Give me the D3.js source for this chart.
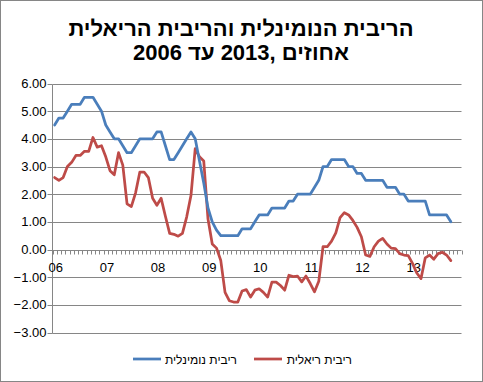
<!DOCTYPE html>
<html><head><meta charset="utf-8">
<script src="https://cdn.jsdelivr.net/npm/d3@7"></script>
<style>
html,body{margin:0;padding:0;background:#fff;}
svg{display:block;font-family:"Liberation Sans",Arial,sans-serif;}
</style></head>
<body>
<svg id="c" width="483" height="382"></svg>
<script>
// ---- data ----
const titleLine1 = "הריבית הנומינלית והריבית הריאלית";
const titleLine2 = "2006 עד\u200E 2013,\u200E אחוזים";
const seriesNames = ["ריבית נומינלית", "ריבית ריאלית"];
const yearLabels = ["06","07","08","09","10","11","12","13"];
const yTicks = [-3,-2,-1,0,1,2,3,4,5,6];
const monthsCount = 96; // Jan 2006 .. Dec 2013 category slots
const nominal = [
 4.5,4.75,4.75,5.0,5.25,5.25,5.25,5.5,5.5,5.5,5.25,5.0,
 4.5,4.25,4.0,4.0,3.75,3.5,3.5,3.75,4.0,4.0,4.0,4.0,
 4.25,4.25,3.75,3.25,3.25,3.5,3.75,4.0,4.25,4.0,3.2,2.4,
 1.5,1.0,0.7,0.5,0.5,0.5,0.5,0.5,0.75,0.75,0.75,1.0,
 1.25,1.25,1.25,1.5,1.5,1.5,1.5,1.75,1.75,2.0,2.0,2.0,
 2.0,2.25,2.5,3.0,3.0,3.25,3.25,3.25,3.25,3.0,3.0,2.75,
 2.75,2.5,2.5,2.5,2.5,2.5,2.25,2.25,2.25,2.0,2.0,1.75,
 1.75,1.75,1.75,1.75,1.25,1.25,1.25,1.25,1.25,1.0
];
const real = [
 2.6,2.5,2.6,3.0,3.15,3.4,3.4,3.55,3.55,4.05,3.7,3.75,
 3.35,2.85,2.7,3.5,3.05,1.65,1.55,2.05,2.8,2.8,2.6,1.85,
 1.6,1.85,1.2,0.58,0.55,0.48,0.58,1.18,1.95,3.65,3.35,3.2,
 1.1,0.2,0.05,-0.4,-1.55,-1.85,-1.9,-1.9,-1.5,-1.45,-1.72,-1.47,
 -1.42,-1.55,-1.72,-1.18,-1.18,-1.3,-1.47,-0.93,-0.98,-0.96,-1.17,-0.96,
 -1.23,-1.53,-1.15,0.1,0.1,0.3,0.6,1.15,1.33,1.25,1.05,0.8,
 0.46,-0.2,-0.25,0.1,0.3,0.4,0.2,0.05,0.03,-0.15,-0.2,-0.22,
 -0.5,-0.85,-1.05,-0.3,-0.2,-0.35,-0.15,-0.1,-0.2,-0.4
];
const colors = ["#4A7EBB", "#BE4B48"];

// ---- drawing ----
const svg = d3.select("#c");
svg.append("rect").attr("x",0.5).attr("y",0.5).attr("width",482).attr("height",381)
  .attr("fill","#fff").attr("stroke","#868686");

const x = d3.scaleBand().domain(d3.range(monthsCount)).range([52.5, 461.5]).padding(0);
const xc = i => x(i) + x.bandwidth()/2;
const y = d3.scaleLinear().domain([-3, 6]).range([332.5, 83.5]);

// title
svg.append("text").attr("x",241).attr("y",36).attr("text-anchor","middle").attr("direction","rtl")
  .attr("font-weight","bold").attr("font-size",22).attr("fill","#000").text(titleLine1);
svg.append("text").attr("x",241).attr("y",60).attr("text-anchor","middle").attr("direction","ltr")
  .attr("font-weight","bold").attr("font-size",22).attr("fill","#000").text(titleLine2);

// gridlines
const gx0 = 52.5, gx1 = 461.5;
svg.append("g").selectAll("line").data(yTicks.filter(v=>v!==0)).join("line")
  .attr("x1",gx0).attr("x2",gx1)
  .attr("y1",d=>Math.round(y(d))+0.5).attr("y2",d=>Math.round(y(d))+0.5)
  .attr("stroke","#868686").attr("stroke-width",1);

// y axis
const yAxis = svg.append("g");
yAxis.append("line").attr("x1",gx0).attr("x2",gx0)
  .attr("y1",Math.round(y(6))+0.5).attr("y2",Math.round(y(-3))+0.5)
  .attr("stroke","#868686");
yAxis.selectAll("line.t").data(yTicks).join("line").attr("class","t")
  .attr("x1",gx0-5).attr("x2",gx0)
  .attr("y1",d=>Math.round(y(d))+0.5).attr("y2",d=>Math.round(y(d))+0.5)
  .attr("stroke","#868686");
yAxis.selectAll("text").data(yTicks).join("text")
  .attr("x",gx0-6).attr("y",d=>y(d)+4.5).attr("text-anchor","end")
  .attr("font-size",13).attr("fill","#000").text(d=>d3.format(".2f")(d));

// x axis at 0
const y0 = Math.round(y(0))+0.5;
const xAxis = svg.append("g");
xAxis.append("line").attr("x1",gx0).attr("x2",gx1).attr("y1",y0).attr("y2",y0)
  .attr("stroke","#868686");
xAxis.selectAll("line.t").data(d3.range(monthsCount+1)).join("line").attr("class","t")
  .attr("x1",d=>Math.round(d<monthsCount? x(d): x(monthsCount-1)+x.bandwidth())+0.5)
  .attr("x2",d=>Math.round(d<monthsCount? x(d): x(monthsCount-1)+x.bandwidth())+0.5)
  .attr("y1",y0).attr("y2",y0+4).attr("stroke","#868686");
xAxis.selectAll("text").data(yearLabels).join("text")
  .attr("x",(d,i)=>xc(i*12)+1.2).attr("y",y0+21).attr("text-anchor","middle")
  .attr("font-size",13).attr("fill","#000").text(d=>d);

// lines
const line = d3.line().x((d,i)=>xc(i)).y(d=>y(d));
svg.append("path").datum(real).attr("d",line).attr("fill","none")
  .attr("stroke",colors[1]).attr("stroke-width",2.75)
  .attr("stroke-linejoin","round").attr("stroke-linecap","round");
svg.append("path").datum(nominal).attr("d",line).attr("fill","none")
  .attr("stroke",colors[0]).attr("stroke-width",2.75)
  .attr("stroke-linejoin","round").attr("stroke-linecap","round");

// legend
const legend = svg.append("g");
const legItems = [
  {name:seriesNames[0], color:colors[0], lx:133, tx:237},
  {name:seriesNames[1], color:colors[1], lx:254, tx:352}
];
legItems.forEach(it=>{
  legend.append("line").attr("x1",it.lx).attr("x2",it.lx+28).attr("y1",359).attr("y2",359)
    .attr("stroke",it.color).attr("stroke-width",2.75);
  legend.append("text").attr("x",it.tx).attr("y",363.5).attr("text-anchor","start")
    .attr("direction","rtl").attr("font-size",12).attr("fill","#000").text(it.name);
});
</script>
</body></html>
